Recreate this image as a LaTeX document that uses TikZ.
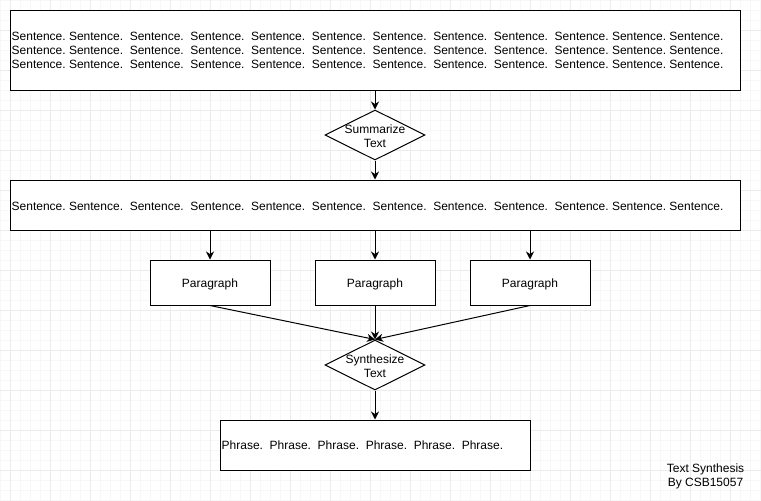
\documentclass[tikz,border=0pt]{standalone}
\usepackage{fontspec}
\setmainfont{Liberation Sans}
\usetikzlibrary{shapes.geometric,arrows.meta}
\frenchspacing
\newcommand{\sentline}{Sentence. Sentence.\ \ Sentence.\ \ Sentence.\ \ Sentence.\ \ Sentence.\ \ Sentence.\ \ Sentence.\ \ Sentence.\ \ Sentence. Sentence. Sentence.}
\begin{document}
\begin{tikzpicture}[x=1pt,y=-1pt,
  txt/.style={font=\fontsize{12}{14}\selectfont, inner sep=0pt},
  box/.style={draw=black, fill=white, line width=1pt, rectangle},
  wide/.style={box, inner sep=0pt},
  lefttext/.style={txt, align=left, anchor=west, xshift=2pt, yshift=-1pt},
  para/.style={box, minimum width=120pt, minimum height=45pt, inner sep=0pt},
  decision/.style={draw=black, fill=white, line width=1pt, diamond, minimum width=100pt, minimum height=50pt, inner sep=0pt},
  arr/.style={draw=black, line width=1pt, -{Stealth[length=8pt,width=8pt,inset=2.5pt]}},
  minorgrid/.style={draw=black!3, line width=0.6pt},
  majorgrid/.style={draw=black!8, line width=0.8pt}]
\useasboundingbox (0,0) rectangle (761,501);
\fill[white] (0,0) rectangle (761,501);
\foreach \x in {0,10,...,760} \draw[minorgrid] (\x,0) -- (\x,501);
\foreach \y in {0,10,...,500} \draw[minorgrid] (0,\y) -- (761,\y);
\foreach \x in {10,50,...,750} \draw[majorgrid] (\x,0) -- (\x,501);
\foreach \y in {30,70,...,470} \draw[majorgrid] (0,\y) -- (761,\y);

\node[wide, minimum width=730pt, minimum height=80pt,
  label={[lefttext, yshift=0.5pt]west:{\sentline\\\sentline\\\sentline}}] (top) at (375,50) {};
\node[decision, label={[txt, align=center, yshift=-1pt]center:Summarize\\Text}] (sum) at (375,135) {};
\node[wide, minimum width=730pt, minimum height=50pt,
  label={[lefttext]west:{\sentline}}] (mid) at (375,205) {};
\node[para, label={[txt, yshift=-2pt]center:Paragraph}] (p1) at (210,282.5) {};
\node[para, label={[txt, yshift=-2pt]center:Paragraph}] (p2) at (375,282.5) {};
\node[para, label={[txt, yshift=-2pt]center:Paragraph}] (p3) at (530,282.5) {};
\node[decision, label={[txt, align=center, yshift=-1pt]center:Synthesize\\Text}] (syn) at (375,365) {};
\node[wide, minimum width=310pt, minimum height=50pt,
  label={[lefttext, yshift=0.5pt]west:{Phrase.\ \ Phrase.\ \ Phrase.\ \ Phrase.\ \ Phrase.\ \ Phrase.}}] (phr) at (375,445) {};
\node[txt, align=center] (credit) at (705.5,476.5) {Text Synthesis\\By CSB15057};

\draw[arr] (top.south) -- (sum.north);
\draw[arr] (sum.south) -- (mid.north);
\draw[arr] (mid.south -| p1.north) -- (p1.north);
\draw[arr] (mid.south -| p2.north) -- (p2.north);
\draw[arr] (mid.south -| p3.north) -- (p3.north);
\draw[arr] (p1.south) -- (syn.north);
\draw[arr] (p2.south) -- (syn.north);
\draw[arr] (p3.south) -- (syn.north);
\draw[arr] (syn.south) -- (phr.north);
\end{tikzpicture}
\end{document}
